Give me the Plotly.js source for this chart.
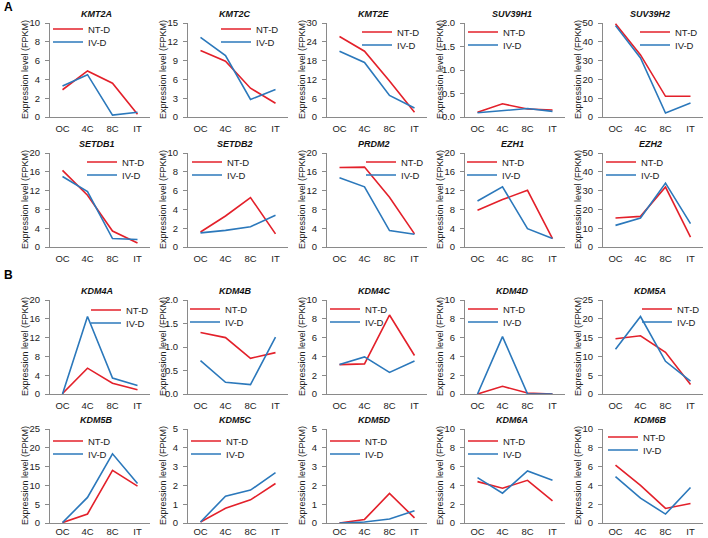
<!DOCTYPE html>
<html><head><meta charset="utf-8">
<script src="https://cdn.plot.ly/plotly-3.0.1.min.js"></script>
<style>html,body{margin:0;padding:0;background:#fff}#chart{width:708px;height:538px}</style>
</head><body><div id="chart"></div>
<script>
// ---------------- data ----------------
const categories = ['OC', '4C', '8C', 'IT'];
const seriesNames = ['NT-D', 'IV-D'];
const genes = ['KMT2A','KMT2C','KMT2E','SUV39H1','SUV39H2',
               'SETDB1','SETDB2','PRDM2','EZH1','EZH2',
               'KDM4A','KDM4B','KDM4C','KDM4D','KDM5A',
               'KDM5B','KDM5C','KDM5D','KDM6A','KDM6B'];

const KMT2A_NTD   = [2.9, 4.9, 3.6, 0.3];
const KMT2A_IVD   = [3.3, 4.5, 0.2, 0.5];
const KMT2C_NTD   = [10.6, 8.9, 4.6, 2.2];
const KMT2C_IVD   = [12.7, 9.8, 2.8, 4.4];
const KMT2E_NTD   = [25.7, 21.0, 11.5, 1.5];
const KMT2E_IVD   = [21.0, 17.4, 6.9, 2.9];
const SUV39H1_NTD = [0.10, 0.28, 0.17, 0.15];
const SUV39H1_IVD = [0.09, 0.13, 0.18, 0.12];
const SUV39H2_NTD = [49.6, 33.0, 11.0, 11.0];
const SUV39H2_IVD = [48.6, 31.4, 2.1, 7.4];

const SETDB1_NTD  = [16.3, 11.0, 3.4, 0.85];
const SETDB1_IVD  = [15.0, 11.8, 1.8, 1.6];
const SETDB2_NTD  = [1.6, 3.3, 5.25, 1.4];
const SETDB2_IVD  = [1.5, 1.77, 2.16, 3.37];
const PRDM2_NTD   = [16.9, 17.0, 10.6, 2.8];
const PRDM2_IVD   = [14.75, 12.8, 3.5, 2.7];
const EZH1_NTD    = [7.8, 10.1, 12.05, 1.8];
const EZH1_IVD    = [9.8, 12.8, 3.9, 1.8];
const EZH2_NTD    = [15.4, 16.3, 31.9, 5.3];
const EZH2_IVD    = [11.5, 15.4, 34.0, 12.4];

const KDM4A_NTD   = [0.1, 5.5, 2.3, 0.9];
const KDM4A_IVD   = [0.0, 16.5, 3.4, 1.8];
const KDM4B_NTD   = [1.31, 1.2, 0.76, 0.88];
const KDM4B_IVD   = [0.71, 0.25, 0.2, 1.21];
const KDM4C_NTD   = [3.13, 3.2, 8.4, 4.1];
const KDM4C_IVD   = [3.13, 3.95, 2.3, 3.5];
const KDM4D_NTD   = [0.0, 0.82, 0.1, 0.0];
const KDM4D_IVD   = [0.0, 6.1, 0.02, 0.0];
const KDM5A_NTD   = [14.7, 15.5, 11.1, 2.5];
const KDM5A_IVD   = [11.9, 20.6, 8.7, 3.4];

const KDM5B_NTD   = [0.1, 2.4, 14.0, 9.8];
const KDM5B_IVD   = [0.1, 6.8, 18.4, 10.5];
const KDM5C_NTD   = [0.05, 0.78, 1.23, 2.1];
const KDM5C_IVD   = [0.05, 1.43, 1.75, 2.68];
const KDM5D_NTD   = [0.0, 0.19, 1.57, 0.27];
const KDM5D_IVD   = [0.0, 0.05, 0.21, 0.65];
const KDM6A_NTD   = [4.4, 3.7, 4.54, 2.36];
const KDM6A_IVD   = [4.82, 3.17, 5.53, 4.54];
const KDM6B_NTD   = [6.16, 4.0, 1.55, 2.08];
const KDM6B_IVD   = [4.93, 2.64, 0.95, 3.77];

const ntdSeries = [KMT2A_NTD,KMT2C_NTD,KMT2E_NTD,SUV39H1_NTD,SUV39H2_NTD,
                   SETDB1_NTD,SETDB2_NTD,PRDM2_NTD,EZH1_NTD,EZH2_NTD,
                   KDM4A_NTD,KDM4B_NTD,KDM4C_NTD,KDM4D_NTD,KDM5A_NTD,
                   KDM5B_NTD,KDM5C_NTD,KDM5D_NTD,KDM6A_NTD,KDM6B_NTD];
const ivdSeries = [KMT2A_IVD,KMT2C_IVD,KMT2E_IVD,SUV39H1_IVD,SUV39H2_IVD,
                   SETDB1_IVD,SETDB2_IVD,PRDM2_IVD,EZH1_IVD,EZH2_IVD,
                   KDM4A_IVD,KDM4B_IVD,KDM4C_IVD,KDM4D_IVD,KDM5A_IVD,
                   KDM5B_IVD,KDM5C_IVD,KDM5D_IVD,KDM6A_IVD,KDM6B_IVD];

// axis scales (tick labels)
const yMax  = [10,15,30,2,50, 20,10,20,20,50, 20,2,10,10,25, 25,5,5,10,10];
const yStep = [2,3,6,0.5,10, 4,2,4,4,10, 4,0.5,2,2,5, 5,1,1,2,2];
const yTitle = 'Expression level (FPKM)';
const panelLabels = ['A', 'B'];

// ---------------- layout geometry ----------------
const W = 708, H = 538;
const colLeft = [50, 188, 327, 465, 603];
const rowTop = [23, 153, 300, 429];
const plotW = 100, plotH = 94;
// legend line start (px from the y axis) per panel
const legendLeft = [10,40,42,10,44, 44,11,46,9,10, 48,9,10,10,46, 10,10,10,10,12];
const legendTop = [6,6,9,9,9, 9,9,9,9,9, 10,9,9,9,9, 12,12,12,12,8];
const legendGap = 13;
const RED = '#e3202a', BLUE = '#2b78bb';
const FONT = 'Arial, "Liberation Sans", sans-serif';
const AXIS_COLOR = '#8a8a8a';
const TICK_FS = 9.5, TITLE_FS = 9;

const traces = [];
const layout = {
  width: W, height: H,
  margin: {l: 0, r: 0, t: 0, b: 0},
  paper_bgcolor: '#fff', plot_bgcolor: '#fff',
  font: {family: FONT, color: '#222'},
  showlegend: true,
  annotations: []
};

genes.forEach((g, i) => {
  const k = i + 1;
  const c = i % 5, r = Math.floor(i / 5);
  const x0 = colLeft[c], y0 = rowTop[r];
  const xa = k === 1 ? 'x' : 'x' + k;
  const ya = k === 1 ? 'y' : 'y' + k;
  const lgA = i === 0 ? 'legend' : 'legend' + (2 * i + 1);
  const lgB = 'legend' + (2 * i + 2);

  traces.push({x: categories, y: ntdSeries[i], type: 'scatter', mode: 'lines',
    name: seriesNames[0], line: {color: RED, width: 1.6}, xaxis: xa, yaxis: ya, legend: lgA,
    hoverinfo: 'x+y+name'});
  traces.push({x: categories, y: ivdSeries[i], type: 'scatter', mode: 'lines',
    name: seriesNames[1], line: {color: BLUE, width: 1.6}, xaxis: xa, yaxis: ya, legend: lgB,
    hoverinfo: 'x+y+name'});

  layout[k === 1 ? 'xaxis' : 'xaxis' + k] = {
    domain: [x0 / W, (x0 + plotW) / W], anchor: ya,
    type: 'category', range: [-0.5, 3.5],
    showline: true, linecolor: AXIS_COLOR, linewidth: 1,
    ticks: '', showgrid: false, zeroline: false, fixedrange: true,
    tickfont: {size: TICK_FS, color: '#222'}, ticklabelstandoff: r === 3 ? 0 : 3
  };
  layout[k === 1 ? 'yaxis' : 'yaxis' + k] = {
    domain: [1 - (y0 + plotH) / H, 1 - y0 / H], anchor: xa,
    range: [0, yMax[i]], tick0: 0, dtick: yStep[i],
    tickformat: yMax[i] <= 2 ? '.1f' : '',
    showline: true, linecolor: AXIS_COLOR, linewidth: 1,
    ticks: 'outside', ticklen: 4, tickcolor: AXIS_COLOR, ticklabelstandoff: 3,
    showgrid: false, zeroline: false, fixedrange: true,
    tickfont: {size: TICK_FS, color: '#222'}
  };
  const legBase = {xanchor: 'left', yanchor: 'middle', bgcolor: 'rgba(0,0,0,0)',
    borderwidth: 0, font: {size: 9.5, color: '#222'}, itemwidth: 30, itemclick: false, itemdoubleclick: false};
  const lx = (x0 + legendLeft[i] - 12) / W;
  layout[lgA] = Object.assign({}, legBase, {x: lx, y: 1 - (y0 + legendTop[i]) / H});
  layout[lgB] = Object.assign({}, legBase, {x: lx, y: 1 - (y0 + legendTop[i] + legendGap) / H});

  // panel title
  layout.annotations.push({
    text: '<b><i>' + g + '</i></b>', xref: 'paper', yref: 'paper',
    x: (x0 + 47) / W, y: 1 - (y0 - 9) / H, xanchor: 'center', yanchor: 'middle',
    showarrow: false, font: {size: 9, color: '#111'}
  });
  // y-axis title (fixed distance from the axis line, as in the reference)
  layout.annotations.push({
    text: yTitle, xref: 'paper', yref: 'paper', textangle: -90,
    x: (x0 - 25) / W, y: 1 - (y0 + plotH / 2) / H, xanchor: 'center', yanchor: 'middle',
    showarrow: false, font: {size: TITLE_FS, color: '#222'}
  });
});

layout.annotations.push({text: '<b>' + panelLabels[0] + '</b>', xref: 'paper', yref: 'paper',
  x: 2 / W, y: 1 - 7 / H, xanchor: 'left', yanchor: 'middle', showarrow: false, font: {size: 12, color: '#000'}});
layout.annotations.push({text: '<b>' + panelLabels[1] + '</b>', xref: 'paper', yref: 'paper',
  x: 2 / W, y: 1 - 275 / H, xanchor: 'left', yanchor: 'middle', showarrow: false, font: {size: 12, color: '#000'}});

Plotly.newPlot('chart', traces, layout, {displayModeBar: false, responsive: false});
</script>
</body></html>
